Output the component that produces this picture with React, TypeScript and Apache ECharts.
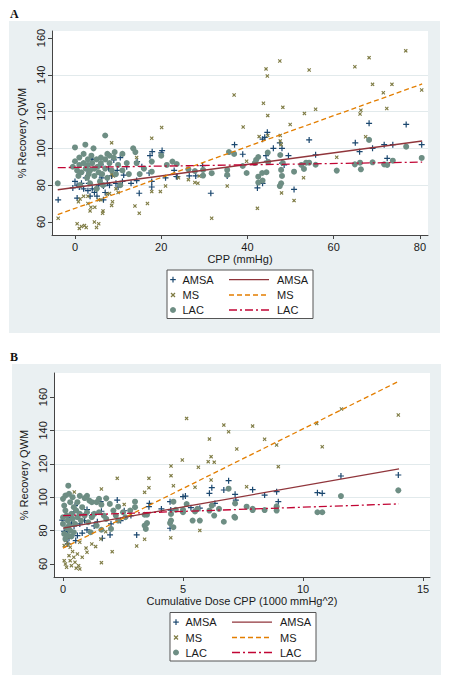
import React, { useEffect, useRef } from "react";
import * as echarts from "echarts";

const FONT = "Liberation Sans";

// ---------- Panel A: CPP (mmHg) ----------
const amsaA: [number, number][] = [
  [-3.9, 72], [-0.5, 78.5], [0, 82], [0.5, 80], [0.5, 73], [1, 79], [1.5, 81], [2, 78], [2.5, 84], [3, 77],
  [3.5, 74], [3.8, 94], [4, 78], [4.1, 94], [4.5, 76], [5, 78], [5.1, 74], [5.5, 80], [6, 91], [6.2, 84],
  [6.6, 79.6], [6.6, 72], [7, 76], [7.5, 81], [8, 80], [8.5, 85], [9, 93.7], [9.5, 81], [10, 79], [11, 82],
  [11.3, 85.5], [12, 90], [13, 81], [14.3, 82.5], [14.4, 92.8], [14.9, 75.6], [15.5, 90], [17.2, 86.6], [17.4, 96], [17.8, 82],
  [17.9, 98.2], [17.8, 79], [20, 97.5], [20.2, 98.8], [21, 84], [23, 88], [23.5, 84.7], [23.7, 84.6], [26.5, 85], [28, 85],
  [29.6, 90.6], [31.5, 75.6], [35.3, 85], [37, 102], [38.9, 96.8], [42.3, 78.5], [43.5, 105], [44, 106], [44.3, 96], [44.5, 93],
  [43.5, 81], [44.6, 108.7], [46, 100], [47.5, 103], [48, 100], [48, 92], [48.5, 91], [49.5, 96], [50.8, 77.7], [54.3, 104.6],
  [55.8, 96.5], [65, 103], [66, 98.2], [68.2, 113.6], [69, 100], [71.7, 102], [72.4, 94.6], [73.7, 102], [76.8, 113], [80.4, 102],
  [1.2, 86], [2.8, 88], [3.2, 81], [5.8, 86], [7.8, 89], [9.8, 88], [10.5, 95],
];
const msA: [number, number][] = [
  [-3.9, 62], [0.5, 59], [1, 56.5], [1.5, 57.5], [2.2, 58], [2.6, 57], [4.5, 60], [5, 57], [5.5, 59], [6.4, 64.7],
  [0.8, 71], [1.2, 72.5], [2, 74], [3, 74], [3.5, 66], [3.7, 68], [4.6, 68], [5.5, 72], [6, 72], [7.5, 75],
  [8, 75.5], [8.5, 69], [8.7, 71], [3, 70], [6.5, 66], [9.5, 78], [10, 76], [13.9, 68.7], [14.9, 64.7], [16.8, 70],
  [17.8, 76.5], [19.8, 76.5], [21, 79.5], [24, 84], [26.3, 83], [28.5, 81], [28.8, 85], [31.7, 62], [35.3, 79.5], [42.3, 67.4],
  [47.9, 75.8], [50.8, 71.6], [53, 84], [8.5, 86], [8.5, 103], [14.3, 95], [17.8, 105.5], [20.1, 111.3], [8.9, 85], [36.9, 129],
  [39, 111.6], [42.7, 106.4], [43.7, 124.5], [44.3, 143.2], [44.6, 139.3], [44.7, 117.8], [44.7, 107], [47.5, 147.5], [47.6, 107], [47.6, 104],
  [47.8, 102], [48.2, 122.3], [49.9, 113], [53.2, 119], [54.3, 142.6], [55.8, 121.3], [60.7, 95.2], [64.9, 144.4], [66.1, 118.7], [66.3, 120.7],
  [67.4, 106.3], [68.2, 149.3], [69, 134.8], [71.5, 130.2], [72.3, 121.7], [73.5, 134.8], [76.7, 153], [80.4, 131.7], [39.8, 93], [27.8, 81.4],
];
const lacA: [number, number][] = [
  [-4, 81], [-0.5, 90], [0, 93], [0, 100.5], [0.5, 88], [0.8, 85], [1, 91], [1, 95], [1.2, 80], [1.5, 87],
  [2, 92], [2, 97], [2.4, 102], [2.5, 89], [2.8, 84], [3, 94], [3, 91], [3.2, 86], [3.5, 88], [3.5, 81],
  [3.8, 96], [4, 92], [4.3, 100], [4.5, 89], [4.5, 85], [5, 94], [5, 78], [5.2, 90], [5.5, 87], [5.8, 82],
  [6, 95], [6, 92], [6.3, 86], [6.5, 80], [7, 107], [7, 94], [7, 89], [7.5, 84], [7.5, 97], [8, 92],
  [8, 96], [8.5, 88], [9, 95], [9.2, 98], [9.5, 86], [10, 91], [10.5, 80], [11, 97], [11, 88], [12, 92],
  [12.5, 86], [13.5, 100], [14, 98], [14.3, 92], [15, 86], [16, 89], [17.8, 92.8], [17.8, 87.3], [20, 96], [21.3, 91],
  [22.6, 92.8], [23.6, 91.5], [26.3, 88.6], [27.8, 87.7], [29.7, 85.2], [29.7, 88.3], [31.7, 86.5], [35.3, 88.3], [35.3, 85.6], [35.7, 98],
  [36.9, 97], [38.9, 90.4], [39.8, 86.6], [41.7, 92], [42, 93.7], [42.5, 95.3], [42.5, 84.6], [42.5, 81.4], [43.4, 86.6], [43.5, 82.5],
  [44.4, 87], [44.7, 97.7], [44.8, 92.6], [47.6, 96.4], [47.8, 88.3], [48, 85], [47.8, 81], [47.5, 79.5], [48.2, 92], [50.8, 87.3],
  [52.5, 91], [53.1, 88.8], [53.6, 92.2], [54.3, 92.2], [55.8, 91.1], [60.7, 87.9], [64.9, 91.3], [66.1, 92.2], [66.3, 88.6], [68.2, 104.6],
  [69, 92.4], [71.7, 91.3], [72.4, 91], [73.7, 93.3], [76.8, 100.9], [80.4, 94.8],
];
const amsaFitA: [number, number][] = [[-4, 77.5], [80.5, 104]];
const msFitA: [number, number][] = [[-4, 64], [80.5, 135]];
const lacFitA: [number, number][] = [[-4, 89.5], [80.5, 92.5]];

// ---------- Panel B: Cumulative Dose CPP (1000 mmHg^2) ----------
const amsaB: [number, number][] = [
  [-0.03, 86.3], [0.18, 80.4], [0.46, 82.8], [1, 80.4], [1.3, 82.8], [1.43, 85.3], [0.53, 74], [0.25, 75.4], [0.46, 91.3], [0.5, 94.9],
  [1, 92.6], [1.6, 91.6], [1.57, 97.3], [2.26, 98.3], [2.55, 91.9], [2.83, 89], [1.64, 75.4], [1.96, 77.4], [3.07, 77.4], [3.6, 96.3],
  [3.58, 94.3], [4.46, 97.3], [4.49, 92.3], [4.46, 81.4], [4.1, 93], [5, 100.3], [5.1, 100.7], [5.33, 93.7], [5.7, 93.4], [6.1, 102.3],
  [6.2, 105.7], [6.33, 96.3], [6.7, 104.3], [6.9, 109.9], [7.17, 101.7], [7.2, 98.3], [7.9, 104.5], [8.4, 101.3], [8.9, 103.3], [8.97, 97.3],
  [10.6, 102.7], [10.8, 102.3], [11.58, 112.7], [13.97, 113.3], [0.1, 78], [0.3, 88], [0.7, 84], [0.8, 78.5], [0.2, 72], [0.35, 84.5],
  [0.9, 86], [1.2, 89], [2, 84], [2.4, 86], [0.6, 77], [0.05, 79.5],
];
const msB: [number, number][] = [
  [0.47, 103.1], [1.6, 104.9], [2.26, 111.3], [2.55, 95.7], [3.4, 102.9], [3.58, 111.3], [3.58, 105.7], [4.5, 118.7], [4.5, 112.9], [4.6, 106.9],
  [4.97, 122.3], [5.15, 147.2], [5.5, 106], [5.64, 117.9], [6.05, 121.3], [6.1, 134.8], [6.17, 124.3], [6.17, 110.3], [6.3, 121], [6.7, 143.2],
  [6.9, 139.2], [7.24, 128.9], [7.65, 106.3], [7.9, 142.6], [8.4, 134.7], [8.9, 131.3], [8.97, 118.3], [10.57, 144.2], [10.8, 130.2], [11.6, 152.8],
  [13.97, 149.2], [0.1, 74], [0.2, 72], [0.3, 70], [0.05, 71], [0.1, 60], [0.15, 58], [0.3, 62], [0.35, 59], [0.45, 64],
  [0.5, 61], [0.55, 57.5], [0.65, 59], [0.7, 57], [0.25, 65], [0.05, 62], [0.6, 66], [0.4, 67.5], [0.96, 69.5], [1, 67],
  [0.8, 64], [1.36, 70.4], [1.6, 60.8], [2.05, 67.4], [1.78, 79.3], [1.58, 75], [3.07, 70.8], [3.4, 74.8], [4.49, 75.7], [5.7, 80.1],
  [0.3, 76], [0.7, 73], [1.2, 72],
];
const lacB: [number, number][] = [
  [0.22, 106.9], [0.1, 101], [0.25, 102], [0.4, 100], [0.7, 100.8], [1, 100.8], [1.2, 97], [1.4, 97], [1.5, 91], [1.8, 99.3],
  [2.1, 92], [2.3, 94.3], [3, 97.3], [3, 94], [3.4, 89.5], [3.5, 89.5], [3.4, 83], [3.45, 81], [3.5, 84.5], [4.46, 84.5],
  [4.6, 82], [4.5, 90], [4.5, 86], [4.6, 97.3], [4.7, 92.5], [5, 91], [5.15, 95.9], [5.5, 91.5], [5.4, 86], [5.7, 86],
  [5, 92.5], [5.6, 93], [6.1, 92], [6.2, 95], [6.3, 89], [6.5, 93], [6.7, 85.3], [6.9, 105.1], [7.17, 96.3], [7.14, 88.3],
  [7.17, 87.7], [7.65, 94.3], [7.9, 93], [7.9, 92.3], [8.4, 92.3], [8.9, 94.5], [8.9, 92], [10.6, 91], [10.8, 91], [11.58, 100.7],
  [13.97, 104.1], [0, 99], [0.05, 95], [0.1, 92], [0.15, 89], [0.2, 86], [0.25, 83], [0.3, 80], [0.05, 78], [0.1, 75],
  [0.2, 77], [0.35, 90], [0.4, 87], [0.45, 94], [0.5, 84], [0.55, 92], [0.6, 88], [0.7, 90], [0.75, 86], [0.8, 94],
  [0.9, 89], [1, 91], [1.05, 85], [1.1, 98], [1.2, 88], [1.3, 90], [1.4, 83], [1.5, 99], [1.6, 95.5], [1.7, 89],
  [1.8, 87], [1.95, 96], [2, 81], [2.2, 89], [2.5, 91], [2.6, 88], [2.8, 92], [0, 84], [0, 88], [0.3, 97],
  [0.6, 97], [0.9, 99.5], [0.15, 81.5], [0.35, 76.5], [1.15, 79], [1.6, 80.5], [0.45, 79], [2.3, 86],
];
const amsaFitB: [number, number][] = [[0, 81.5], [14, 117]];
const msFitB: [number, number][] = [[0, 69.5], [14, 169.5]];
const lacFitB: [number, number][] = [[0, 89], [14, 96]];

// ---------- ticks / labels ----------
const yTicks = [60, 80, 100, 120, 140, 160];
const xTicksA = [0, 20, 40, 60, 80];
const xTicksB = [0, 5, 10, 15];
const groupNames = ["AMSA", "MS", "LAC"];
const yTitle = "% Recovery QWM";
const xTitleA = "CPP (mmHg)";
const xTitleB = "Cumulative Dose CPP (1000 mmHg^2)";

// ---------- styles ----------
const C_AMSA_PT = "#1a476f";
const C_MS_PT = "#7f7c45";
const C_LAC_PT = "#6e8e84";
const C_AMSA_LN = "#90353b";
const C_MS_LN = "#e37e00";
const C_LAC_LN = "#c10534";
const BG = "#eaf0f2";
const AXIS = "#444";
const TXT = "#1a1a1a";
const DASH_MS = [5, 3];
const DASH_LAC = [8, 3, 2, 3];

const PLUS = "path://M4,0H6V4H10V6H6V10H4V6H0V4H4Z";
const CROSS = "path://M0,2L2,0L5,3L8,0L10,2L7,5L10,8L8,10L5,7L2,10L0,8L3,5Z";

function xAxis(gridIndex: number, min: number, max: number, step: number, ticks: number[], name: string) {
  return {
    type: "value", gridIndex, min, max, minInterval: step, maxInterval: step,
    name, nameLocation: "middle", nameGap: 18,
    nameTextStyle: { fontFamily: FONT, fontSize: 11, color: TXT },
    axisLine: { show: true, onZero: false, lineStyle: { color: AXIS, width: 1 } },
    axisTick: { show: true, length: 4, customValues: ticks, lineStyle: { color: AXIS, width: 1 } },
    axisLabel: { customValues: ticks, margin: 6, fontFamily: FONT, fontSize: 11, color: TXT },
    splitLine: { show: false },
  };
}
function yAxis(gridIndex: number, min: number, max: number) {
  return {
    type: "value", gridIndex, min, max, minInterval: 20, maxInterval: 20,
    name: yTitle, nameLocation: "middle", nameRotate: 90, nameGap: 19,
    nameTextStyle: { fontFamily: FONT, fontSize: 11, color: TXT },
    axisLine: { show: true, onZero: false, lineStyle: { color: AXIS, width: 1 } },
    axisTick: { show: true, length: 4, customValues: yTicks, lineStyle: { color: AXIS, width: 1 } },
    axisLabel: { customValues: yTicks, rotate: 90, margin: 6, fontFamily: FONT, fontSize: 11, color: TXT },
    splitLine: { show: true, showMinLine: false, showMaxLine: false, lineStyle: { color: "#e2eaec", width: 1 } },
  };
}

function scatter(name: string, idx: number, data: [number, number][], symbol: string, size: number, color: string) {
  return {
    type: "scatter", name, xAxisIndex: idx, yAxisIndex: idx, data, symbol, symbolSize: size,
    itemStyle: { color, opacity: 1 }, z: 2, silent: true,
  };
}
function fit(name: string, idx: number, data: [number, number][], color: string, type: any) {
  return {
    type: "line", name, xAxisIndex: idx, yAxisIndex: idx, data, symbol: "none", showSymbol: false,
    lineStyle: { color, width: 1.3, type }, z: 3, silent: true,
  };
}

function legendEls(x0: number, y0: number) {
  const rows = [y0 + 9.6, y0 + 25, y0 + 40];
  const mx = x0 + 6;
  const t = (x: number, y: number, s: string) => ({
    type: "text", z: 10, x, y, style: { text: s, fontFamily: FONT, fontSize: 11, fill: TXT, verticalAlign: "middle" },
  });
  const ln = (y: number, color: string, dash: number[] | null) => ({
    type: "line", z: 10, shape: { x1: x0 + 62, y1: y, x2: x0 + 102, y2: y },
    style: { stroke: color, lineWidth: 1.3, lineDash: dash || undefined },
  });
  return [
    { type: "rect", z: 9, shape: { x: x0, y: y0, width: 146, height: 48.5 }, style: { fill: "#fff", stroke: "#555", lineWidth: 1 } },
    { type: "line", z: 10, shape: { x1: mx - 2.8, y1: rows[0], x2: mx + 2.8, y2: rows[0] }, style: { stroke: C_AMSA_PT, lineWidth: 1.2 } },
    { type: "line", z: 10, shape: { x1: mx, y1: rows[0] - 2.8, x2: mx, y2: rows[0] + 2.8 }, style: { stroke: C_AMSA_PT, lineWidth: 1.2 } },
    { type: "line", z: 10, shape: { x1: mx - 2, y1: rows[1] - 2, x2: mx + 2, y2: rows[1] + 2 }, style: { stroke: C_MS_PT, lineWidth: 1.2 } },
    { type: "line", z: 10, shape: { x1: mx - 2, y1: rows[1] + 2, x2: mx + 2, y2: rows[1] - 2 }, style: { stroke: C_MS_PT, lineWidth: 1.2 } },
    { type: "circle", z: 10, shape: { cx: mx, cy: rows[2], r: 3 }, style: { fill: C_LAC_PT } },
    t(x0 + 15.5, rows[0], groupNames[0]),
    t(x0 + 15.5, rows[1], groupNames[1]),
    t(x0 + 15.5, rows[2], groupNames[2]),
    ln(rows[0], C_AMSA_LN, null),
    ln(rows[1], C_MS_LN, DASH_MS),
    ln(rows[2], C_LAC_LN, DASH_LAC),
    t(x0 + 110, rows[0], groupNames[0]),
    t(x0 + 110, rows[1], groupNames[1]),
    t(x0 + 110, rows[2], groupNames[2]),
  ];
}

export default function App() {
  const ref = useRef<HTMLDivElement>(null);
  useEffect(() => {
    if (!ref.current) return;
    const chart = echarts.init(ref.current, undefined, { renderer: "svg" });
    const option: any = {
      animation: false,
      backgroundColor: "#fff",
      textStyle: { fontFamily: FONT },
      grid: [
        { left: 52, top: 31, width: 376, height: 204, show: true, backgroundColor: "#fff", borderWidth: 0 },
        { left: 54, top: 373, width: 376, height: 204, show: true, backgroundColor: "#fff", borderWidth: 0 },
      ],
      xAxis: [
        xAxis(0, -5.33, 81.86, 20, xTicksA, xTitleA),
        xAxis(1, -0.375, 15.29, 5, xTicksB, xTitleB),
      ],
      yAxis: [yAxis(0, 52.9, 163.8), yAxis(1, 52.2, 174.4)],
      series: [
        scatter("AMSA", 0, amsaA, PLUS, 6, C_AMSA_PT),
        scatter("MS", 0, msA, CROSS, 4, C_MS_PT),
        scatter("LAC", 0, lacA, "circle", 6, C_LAC_PT),
        fit("AMSA fit", 0, amsaFitA, C_AMSA_LN, "solid"),
        fit("MS fit", 0, msFitA, C_MS_LN, DASH_MS),
        fit("LAC fit", 0, lacFitA, C_LAC_LN, DASH_LAC),
        scatter("AMSA B", 1, amsaB, PLUS, 6, C_AMSA_PT),
        scatter("MS B", 1, msB, CROSS, 4, C_MS_PT),
        scatter("LAC B", 1, lacB, "circle", 6, C_LAC_PT),
        fit("AMSA fit B", 1, amsaFitB, C_AMSA_LN, "solid"),
        fit("MS fit B", 1, msFitB, C_MS_LN, DASH_MS),
        fit("LAC fit B", 1, lacFitB, C_LAC_LN, DASH_LAC),
      ],
      graphic: [
        { type: "rect", z: -1, shape: { x: 9, y: 21, width: 431, height: 312 }, style: { fill: BG } },
        { type: "rect", z: -1, shape: { x: 12, y: 364, width: 429, height: 311 }, style: { fill: BG } },
        { type: "text", z: 10, x: 10, y: 14, style: { text: "A", fontFamily: "Liberation Serif", fontWeight: "bold", fontSize: 12, fill: "#111", verticalAlign: "middle" } },
        { type: "text", z: 10, x: 10, y: 356.5, style: { text: "B", fontFamily: "Liberation Serif", fontWeight: "bold", fontSize: 12, fill: "#111", verticalAlign: "middle" } },
        ...legendEls(167, 270),
        ...legendEls(170, 612.5),
      ],
    };
    chart.setOption(option);
    return () => chart.dispose();
  }, []);
  return <div ref={ref} style={{ position: "absolute", left: 0, top: 0, width: 450, height: 685 }} />;
}
